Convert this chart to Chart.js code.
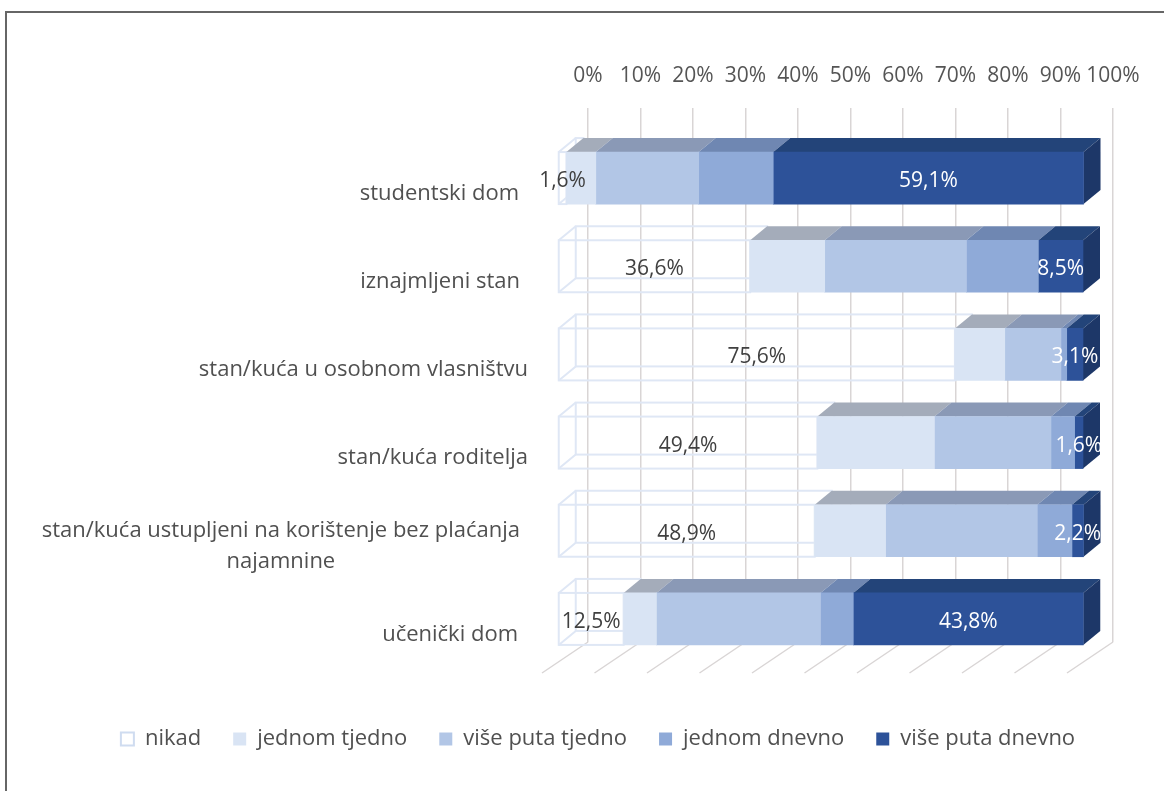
<!DOCTYPE html>
<html>
<head>
<meta charset="utf-8">
<title>Chart</title>
<script src="https://cdn.jsdelivr.net/npm/chart.js@4"></script>
<style>
    html, body { margin: 0; background: #fff; }
    #frame { position: absolute; left: 5px; top: 11px; right: 0; bottom: 0; border-left: 2px solid #666; border-top: 2px solid #666; }
    #progressChart { position: absolute; left: 0; top: 0; }
</style>
</head>
<body>
<div id="frame"></div>
<canvas id="progressChart" width="1164" height="791"></canvas>
<script>
var categories = [
    ['studentski dom'],
    ['iznajmljeni stan'],
    ['stan/kuća u osobnom vlasništvu'],
    ['stan/kuća roditelja'],
    ['stan/kuća ustupljeni na korištenje bez plaćanja', 'najamnine'],
    ['učenički dom']
];
var seriesNames = ['nikad', 'jednom tjedno', 'više puta tjedno', 'jednom dnevno', 'više puta dnevno'];
var nikad = [1.6, 36.6, 75.6, 49.4, 48.9, 12.5];
var jednomTjedno = [5.6, 14.2, 9.5, 22.3, 13.5, 6.25];
var viseTjedno = [19.6, 27, 10.7, 22.2, 28.9, 31.25];
var jednomDnevno = [14.2, 13.7, 1.1, 4.5, 6.6, 6.25];
var viseDnevno = [59.1, 8.5, 3.1, 1.6, 2.2, 43.8];
var xTicks = [0, 10, 20, 30, 40, 50, 60, 70, 80, 90, 100];

var frontColors = ['#ffffff', '#d9e4f4', '#b2c6e6', '#8faad8', '#2d5299'];
var topColors = ['', '#a4acba', '#8a99b6', '#6f87b2', '#234479'];
var sideColor = '#1d3768';
var wireColor = '#dfe7f5';
var font = '"Open Sans", sans-serif';

// bars sit in front of the back wall, floor lines reach further forward
var FRONT_X = -30, FRONT_Y = 21;
var DEPTH_X = 17, DEPTH_Y = 14;
var FLOOR_X = -46, FLOOR_Y = 31;
var labelRight = [519, 520, 528, 528, 520, 518];

function seriesData(i) {
    return [nikad, jednomTjedno, viseTjedno, jednomDnevno, viseDnevno][i];
}

function poly(ctx, pts, fill) {
    ctx.beginPath();
    ctx.moveTo(pts[0][0], pts[0][1]);
    for (var i = 1; i < pts.length; i++) ctx.lineTo(pts[i][0], pts[i][1]);
    ctx.closePath();
    ctx.fillStyle = fill;
    ctx.fill();
}

var bars3d = {
    id: 'bars3d',
    beforeDatasetsDraw: function(chart) {
        var ctx = chart.ctx;
        var xs = chart.scales.x;

        // floor lines
        ctx.save();
        ctx.strokeStyle = '#d9d5d5';
        ctx.lineWidth = 1.5;
        xTicks.forEach(function(t) {
            var px = xs.getPixelForValue(t);
            ctx.beginPath();
            ctx.moveTo(px, chart.chartArea.bottom);
            ctx.lineTo(px + FLOOR_X, chart.chartArea.bottom + FLOOR_Y);
            ctx.stroke();
        });
        ctx.restore();

        ctx.save();
        ctx.translate(FRONT_X, FRONT_Y);

        // wire box of the first series
        chart.getDatasetMeta(0).data.forEach(function(b) {
            var top = b.y - b.height / 2, bottom = b.y + b.height / 2;
            ctx.strokeStyle = wireColor;
            ctx.lineWidth = 2;
            ctx.strokeRect(b.base + DEPTH_X, top - DEPTH_Y, b.x - b.base, b.height);
            ctx.strokeRect(b.base, top, b.x - b.base, b.height);
            ctx.beginPath();
            ctx.moveTo(b.base, top);
            ctx.lineTo(b.base + DEPTH_X, top - DEPTH_Y);
            ctx.moveTo(b.base, bottom);
            ctx.lineTo(b.base + DEPTH_X, bottom - DEPTH_Y);
            ctx.stroke();
        });

        // top faces and right end
        for (var i = 1; i < seriesNames.length; i++) {
            chart.getDatasetMeta(i).data.forEach(function(b) {
                var top = b.y - b.height / 2, bottom = b.y + b.height / 2;
                poly(ctx, [[b.base, top], [b.x, top], [b.x + DEPTH_X, top - DEPTH_Y], [b.base + DEPTH_X, top - DEPTH_Y]], topColors[i]);
                if (i === seriesNames.length - 1) {
                    poly(ctx, [[b.x, top], [b.x + DEPTH_X, top - DEPTH_Y], [b.x + DEPTH_X, bottom - DEPTH_Y], [b.x, bottom]], sideColor);
                }
            });
        }
    },
    afterDatasetsDraw: function(chart) {
        var ctx = chart.ctx;
        ctx.font = '21px ' + font;
        ctx.textAlign = 'center';
        ctx.textBaseline = 'middle';

        // value labels for first and last series
        [0, seriesNames.length - 1].forEach(function(i) {
            ctx.fillStyle = i === 0 ? '#404040' : '#ffffff';
            chart.getDatasetMeta(i).data.forEach(function(b, j) {
                var text = seriesData(i)[j].toFixed(1).replace('.', ',') + '%';
                ctx.fillText(text, (b.x + b.base) / 2, b.y + 3);
            });
        });
        ctx.restore();

        // category labels, second line centred under the first
        ctx.save();
        ctx.font = '22px ' + font;
        ctx.textAlign = 'center';
        ctx.textBaseline = 'middle';
        ctx.fillStyle = '#505050';
        categories.forEach(function(lines, j) {
            var y = chart.scales.y.getPixelForValue(j) + FRONT_Y + 15.5 - (lines.length - 1) * 15.5;
            var w = ctx.measureText(lines[0]).width;
            lines.forEach(function(line, k) {
                ctx.fillText(line, labelRight[j] - w / 2, y + k * 31);
            });
        });
        ctx.restore();
    },
    afterLayout: function(chart) {
        chart.legend.top = 696;
        chart.legend.bottom = 785;
    }
};

new Chart(document.getElementById('progressChart'), {
    type: 'bar',
    data: {
        labels: categories,
        datasets: seriesNames.map(function(name, i) {
            return {
                label: name,
                data: seriesData(i),
                backgroundColor: frontColors[i] === '#ffffff' ? 'rgba(0,0,0,0)' : frontColors[i],
                borderWidth: 0,
                barThickness: 52,
                clip: false
            };
        })
    },
    plugins: [bars3d],
    options: {
        indexAxis: 'y',
        responsive: false,
        animation: false,
        layout: { padding: { left: 83, right: 51, top: 50, bottom: 85 } },
        scales: {
            x: {
                position: 'top',
                stacked: true,
                min: 0,
                max: 100,
                afterFit: function(s) { s.height = 63; },
                afterBuildTicks: function(s) { s.ticks = xTicks.map(function(v) { return { value: v }; }); },
                ticks: {
                    color: '#555555',
                    font: { family: font, size: 21 },
                    padding: 19,
                    maxRotation: 0,
                    autoSkip: false,
                    callback: function(v) { return v + '%'; }
                },
                grid: { color: '#d9d5d5', lineWidth: 1.5, tickLength: 5, tickColor: '#d9d5d5' },
                border: { display: false }
            },
            y: {
                stacked: true,
                afterFit: function(s) { s.width = 505; },
                ticks: { display: false },
                grid: { display: false },
                border: { display: false }
            }
        },
        plugins: {
            tooltip: { enabled: false },
            legend: {
                position: 'bottom',
                labels: {
                    color: '#505050',
                    font: { family: font, size: 22 },
                    boxWidth: 13,
                    boxHeight: 13,
                    padding: 32,
                    generateLabels: function() {
                        return seriesNames.map(function(name, i) {
                            return {
                                text: name,
                                fillStyle: frontColors[i],
                                strokeStyle: i === 0 ? '#cfdcf0' : frontColors[i],
                                fontColor: '#505050',
                                lineWidth: i === 0 ? 2 : 0,
                                datasetIndex: i
                            };
                        });
                    }
                }
            }
        }
    }
});
</script>
</body>
</html>
